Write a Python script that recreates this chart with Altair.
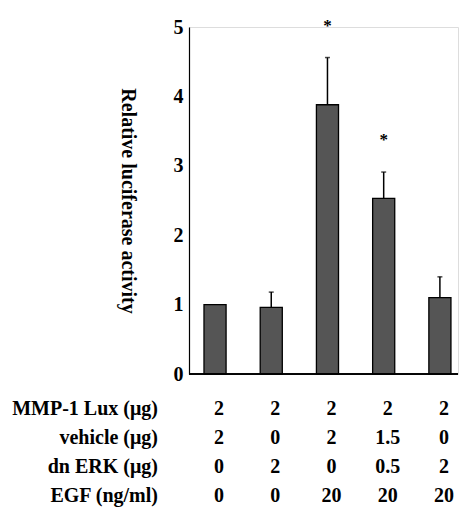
import altair as alt
import pandas as pd

conditions = ["c1", "c2", "c3", "c4", "c5"]
means = [1.00, 0.96, 3.88, 2.53, 1.10]
errors = [0.00, 0.22, 0.68, 0.38, 0.30]
signif = ["", "", "*", "*", ""]

row_labels = ["MMP-1 Lux (\u03bcg)", "vehicle (\u03bcg)", "dn ERK (\u03bcg)", "EGF (ng/ml)"]
table_values = [
    ["2", "2", "2", "2", "2"],
    ["2", "0", "2", "1.5", "0"],
    ["0", "2", "0", "0.5", "2"],
    ["0", "0", "20", "20", "20"],
]

FONT = "Liberation Serif"

df = pd.DataFrame({"cond": conditions, "mean": means, "err": errors, "star": signif})
df["top"] = df["mean"] + df["err"]

tbl = pd.DataFrame(
    [{"cond": c, "row": r, "val": table_values[i][j]}
     for i, r in enumerate(row_labels) for j, c in enumerate(conditions)]
)
lab = pd.DataFrame({"row": row_labels})

W, H = 269, 347

xscale = alt.Scale(domain=conditions, paddingInner=0.607, paddingOuter=0.196, align=0.68)
x = alt.X("cond:N", scale=xscale, axis=None, sort=conditions)
yscale = alt.Scale(domain=[0, 5], nice=False)

bars = alt.Chart(df).mark_bar(color="#555555", stroke="black", strokeWidth=1.3).encode(
    x=x,
    y=alt.Y("mean:Q", scale=yscale,
            axis=alt.Axis(values=[0, 1, 2, 3, 4, 5], format="d", ticks=False, grid=False,
                          domainColor="black", domainWidth=1.2,
                          labelFont=FONT, labelFontSize=20, labelFontWeight="bold",
                          labelColor="black", labelPadding=6,
                          title="Relative luciferase activity", titleFont=FONT,
                          titleFontSize=20, titleFontWeight="bold", titleColor="black",
                          titleAngle=90, titleX=-62, titleY=H / 2,
                          titleAlign="center", titleBaseline="middle")),
)

base_err = alt.Chart(df).transform_filter("datum.err > 0")
err = base_err.mark_rule(color="black", strokeWidth=1.5).encode(
    x=x, y=alt.Y("mean:Q", scale=yscale), y2="top:Q")
caps = base_err.mark_tick(color="black", thickness=1.5, size=5).encode(
    x=x, y=alt.Y("top:Q", scale=yscale))
stars = alt.Chart(df).transform_filter("datum.star != ''").mark_text(
    font=FONT, fontSize=17, fontWeight="bold", color="black", dy=-27, baseline="alphabetic"
).encode(x=x, y=alt.Y("top:Q", scale=yscale), text="star:N")

# x-axis baseline
baseline = alt.Chart(df).mark_rule(color="black", strokeWidth=1.2).encode(
    x=alt.value(0), x2=alt.value(W), y=alt.datum(0, scale=yscale))

plot = alt.layer(bars, err, caps, stars, baseline)

rowscale = alt.Scale(domain=row_labels, range=[382, 469], padding=0)
vals = alt.Chart(tbl).mark_text(font=FONT, fontSize=20, fontWeight="bold", color="black",
                                dx=4, baseline="middle").encode(
    x=x, y=alt.Y("row:N", scale=rowscale, axis=None, sort=row_labels), text="val:N")
labels = alt.Chart(lab).mark_text(font=FONT, fontSize=20, fontWeight="bold", color="black",
                                  align="right", baseline="middle").encode(
    x=alt.value(-31), y=alt.Y("row:N", scale=rowscale, axis=None, sort=row_labels), text="row:N")

table = alt.layer(vals, labels)

chart = alt.layer(plot, table).resolve_scale(y="independent").properties(
    width=W, height=H,
    autosize=alt.AutoSizeParams(type="none"),
    padding={"left": 189, "top": 27, "right": 2, "bottom": 142},
).configure_view(stroke=None).configure(background="white")

chart.save("out.html", embed_options={"renderer": "svg", "actions": False})
